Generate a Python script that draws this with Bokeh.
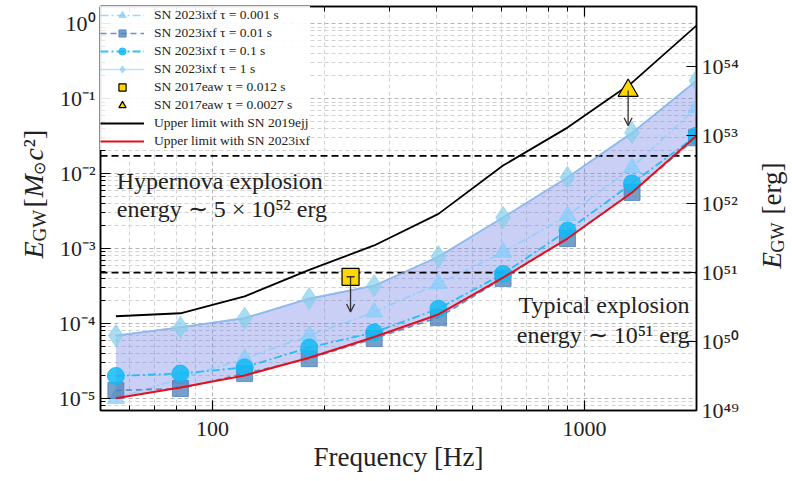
import numpy as np
from bokeh.plotting import figure
from bokeh.layouts import row
from bokeh.models import (Range1d, LogAxis, LogScale, FixedTicker, CustomJSTickFormatter,
                          Label, Arrow, OpenHead, Legend, LegendItem)
from bokeh.embed import file_html
from bokeh.resources import INLINE

# ---------------- data ----------------
freq_hz = [55, 82, 122, 182, 272, 405, 604, 900, 1342, 2000]
egw_tau_0p001 = [1.0e-5, 1.85e-5, 3.4e-5, 6.9e-5, 1.42e-4, 3.4e-4, 8.9e-4, 2.75e-3, 1.2e-2, 7.6e-2]
egw_tau_0p01 = [1.28e-5, 1.36e-5, 2.15e-5, 3.4e-5, 6.3e-5, 1.2e-4, 4.0e-4, 1.36e-3, 5.6e-3, 3.0e-2]
egw_tau_0p1 = [2.0e-5, 2.15e-5, 2.6e-5, 4.8e-5, 7.6e-5, 1.58e-4, 4.6e-4, 1.74e-3, 7.4e-3, 3.2e-2]
egw_tau_1 = [6.9e-5, 8.9e-5, 1.18e-4, 2.15e-4, 3.2e-4, 7.8e-4, 2.6e-3, 8.9e-3, 3.5e-2, 0.174]
limit_sn2023ixf = [1.01e-5, 1.4e-5, 2.03e-5, 3.5e-5, 6.6e-5, 1.32e-4, 4.1e-4, 1.36e-3, 5.6e-3, 3.2e-2]
limit_sn2019ejj = [1.25e-4, 1.37e-4, 2.3e-4, 5.2e-4, 1.1e-3, 2.9e-3, 1.28e-2, 4.1e-2, 0.163, 0.94]

eaw_freq_hz = [235, 1310]
eaw_egw = [4.2e-4, 0.128]

hypernova_erg = 5e52
typical_erg = 1e51

x_lim = (50, 2000)
y_lim = (6.92e-6, 1.69)
erg_lim = (9.9e48, 7.41e54)

x_major = [100, 1000]
x_minor = [60, 70, 80, 90, 200, 300, 400, 500, 600, 700, 800, 900]
y_major = [1e-5, 1e-4, 1e-3, 1e-2, 1e-1, 1e0]
y_minor = [k * 10.0 ** e for e in range(-6, 1) for k in range(2, 10)]
erg_major = [1e49, 1e50, 1e51, 1e52, 1e53, 1e54]

labels_2023 = ["SN 2023ixf τ = 0.001 s", "SN 2023ixf τ = 0.01 s",
               "SN 2023ixf τ = 0.1 s", "SN 2023ixf τ = 1 s"]
labels_eaw = ["SN 2017eaw τ = 0.012 s", "SN 2017eaw τ = 0.0027 s"]
labels_limits = ["Upper limit with SN 2019ejj", "Upper limit with SN 2023ixf"]

FONT = "Liberation Serif"
INK = "#222222"

# ---------------- layout geometry ----------------
H = 480
FRAME_TOP, FRAME_BOTTOM = 6, 410
LEFT_W, RIGHT_W = 50, 46
MAIN_W = 790 - LEFT_W - RIGHT_W

# ---------------- main figure ----------------
p = figure(width=MAIN_W, height=H, x_axis_type="log", y_axis_type="log",
           x_range=Range1d(*x_lim), y_range=Range1d(*y_lim),
           output_backend="svg", toolbar_location=None,
           min_border_left=100 - LEFT_W, min_border_right=LEFT_W + MAIN_W - 696,
           min_border_top=FRAME_TOP, min_border_bottom=H - FRAME_BOTTOM)
p.extra_y_ranges = {"erg": Range1d(*erg_lim)}
p.extra_y_scales = {"erg": LogScale()}
p.outline_line_color = "black"
p.outline_line_width = 1.5
p.background_fill_color = "white"

SUP_CODE = """
const sup = {"0":"\u2070","1":"\u00b9","2":"\u00b2","3":"\u00b3","4":"\u2074","5":"\u2075",
             "6":"\u2076","7":"\u2077","8":"\u2078","9":"\u2079","-":"\u207b"};
const e = Math.round(Math.log10(tick));
return "10" + String(e).split("").map(c => sup[c]).join("");
"""
sup_fmt_left = CustomJSTickFormatter(code=SUP_CODE)
sup_fmt_right = CustomJSTickFormatter(code=SUP_CODE)
int_fmt = CustomJSTickFormatter(code="return tick.toFixed(0);")

xt = FixedTicker(ticks=x_major, minor_ticks=x_minor)
yt = FixedTicker(ticks=y_major, minor_ticks=y_minor)


def style_axis(ax):
    ax.major_tick_in = 10
    ax.major_tick_out = 0
    ax.minor_tick_in = 5
    ax.minor_tick_out = 0
    ax.major_tick_line_width = 1.2
    ax.minor_tick_line_width = 1
    ax.axis_line_width = 1.5
    ax.major_label_text_font = FONT
    ax.major_label_text_font_size = "22px"
    ax.major_label_text_color = INK
    ax.major_label_standoff = 5


xa = p.xaxis[0]
xa.ticker = xt
xa.formatter = int_fmt
style_axis(xa)
xa.major_label_standoff = 11
xa.axis_label = "Frequency [Hz]"
xa.axis_label_text_font = FONT
xa.axis_label_text_font_size = "27px"
xa.axis_label_text_font_style = "normal"
xa.axis_label_text_color = INK
xa.axis_label_standoff = 3

ya = p.yaxis[0]
ya.ticker = yt
ya.formatter = sup_fmt_left
style_axis(ya)

top = LogAxis(ticker=FixedTicker(ticks=x_major, minor_ticks=x_minor))
style_axis(top)
top.major_label_text_font_size = "1px"
top.major_label_text_alpha = 0
top.major_label_standoff = 0
p.add_layout(top, "above")

right = LogAxis(y_range_name="erg", ticker=FixedTicker(ticks=erg_major, minor_ticks=[]),
                formatter=sup_fmt_right)
style_axis(right)
p.add_layout(right, "right")

for g in (p.xgrid, p.ygrid):
    g.grid_line_color = "#b5b5b5"
    g.grid_line_dash = "4 3"
    g.grid_line_width = 1
    g.minor_grid_line_color = "#d2d2d2"
    g.minor_grid_line_dash = "4 3"
    g.minor_grid_line_width = 1

# ---------------- band ----------------
taus = np.array([egw_tau_0p001, egw_tau_0p01, egw_tau_0p1, egw_tau_1])
band_low = taus.min(axis=0)
band_high = taus.max(axis=0)
p.varea(x=freq_hz, y1=band_low, y2=band_high, fill_color="#5b6ee0", fill_alpha=0.33)
p.line(freq_hz, band_high, line_color="#7890e4", line_width=1.6, line_alpha=0.85)

# ---------------- reference energies ----------------
for e in (hypernova_erg, typical_erg):
    p.line(x=list(x_lim), y=[e, e], y_range_name="erg", line_color="black",
           line_width=1.8, line_dash="7 4")

# ---------------- SN 2023ixf series ----------------
l1 = p.line(freq_hz, egw_tau_0p001, line_color="#87CEFA", line_alpha=0.8, line_width=1.6,
            line_dash="8 3 2 3")
s1 = p.scatter(freq_hz, egw_tau_0p001, marker="triangle", size=17, fill_color="#87CEFA",
               fill_alpha=0.75, line_color="#87CEFA", line_alpha=0.75)
l2 = p.line(freq_hz, egw_tau_0p01, line_color="#3f6fa8", line_alpha=0.75, line_width=1.6,
            line_dash="6 4")
s2 = p.scatter(freq_hz, egw_tau_0p01, marker="square", size=16, fill_color="#4a7fb8",
               fill_alpha=0.75, line_color="#4a7fb8", line_alpha=0.75)
l3 = p.line(freq_hz, egw_tau_0p1, line_color="#10b8f4", line_alpha=0.85, line_width=1.8,
            line_dash="8 3 2 3")
s3 = p.scatter(freq_hz, egw_tau_0p1, marker="circle", size=17, fill_color="#12baf5",
               fill_alpha=0.85, line_color="#12baf5", line_alpha=0.85)
l4 = p.line(freq_hz, egw_tau_1, line_color="#8fd0f0", line_alpha=0.6, line_width=1.6)
s4 = p.scatter(freq_hz, egw_tau_1, marker="diamond", size=22, fill_color="#87CEEB",
               fill_alpha=0.7, line_color="#87CEEB", line_alpha=0.7)

# ---------------- upper limits ----------------
lb = p.line(freq_hz, limit_sn2019ejj, line_color="black", line_width=1.8)
lr = p.line(freq_hz, limit_sn2023ixf, line_color="#e3101c", line_width=2.0)

# ---------------- SN 2017eaw ----------------
sq = p.scatter(eaw_freq_hz[:1], eaw_egw[:1], marker="square", size=17, fill_color="#FFD700",
               line_color="black", line_width=1.2)
tr = p.scatter(eaw_freq_hz[1:], eaw_egw[1:], marker="triangle", size=20, fill_color="#FFD700",
               line_color="black", line_width=1.2)
p.scatter(eaw_freq_hz[:1], eaw_egw[:1], marker="dash", size=8, line_color="#333333", line_width=1.5)
arrow_decades = 0.47
for f, v in zip(eaw_freq_hz, eaw_egw):
    p.add_layout(Arrow(x_start=f, y_start=v, x_end=f, y_end=v / 10 ** arrow_decades,
                       line_color="#333333", line_width=1.3,
                       end=OpenHead(size=8, line_color="#333333", line_width=1.3)))

# ---------------- in-plot texts ----------------
txt = dict(text_font=FONT, text_font_size="24px", text_color=INK)
p.add_layout(Label(x=55.3, y=8.07e-3, text="Hypernova explosion", text_align="left",
                   text_baseline="alphabetic", **txt))
p.add_layout(Label(x=55.3, y=3.41e-3, text="energy \u223c 5 \u00d7 10\u2075\u00b2 erg",
                   text_align="left", text_baseline="alphabetic", **txt))
p.add_layout(Label(x=1915, y=1.74e-4, text="Typical explosion", text_align="right",
                   text_baseline="alphabetic", **txt))
p.add_layout(Label(x=1915, y=7.1e-5, text="energy \u223c 10\u2075\u00b9 erg",
                   text_align="right", text_baseline="alphabetic", **txt))

# ---------------- legend ----------------
items = [LegendItem(label=labels_2023[0], renderers=[l1, s1]),
         LegendItem(label=labels_2023[1], renderers=[l2, s2]),
         LegendItem(label=labels_2023[2], renderers=[l3, s3]),
         LegendItem(label=labels_2023[3], renderers=[l4, s4]),
         LegendItem(label=labels_eaw[0], renderers=[sq]),
         LegendItem(label=labels_eaw[1], renderers=[tr]),
         LegendItem(label=labels_limits[0], renderers=[lb]),
         LegendItem(label=labels_limits[1], renderers=[lr])]
legend = Legend(items=items, location="top_left", margin=0, padding=1, spacing=0,
                glyph_width=44, glyph_height=18, label_height=18, label_standoff=10,
                label_text_font=FONT, label_text_font_size="13.5px",
                label_text_color=INK, border_line_color=None,
                background_fill_color="white", background_fill_alpha=0.9)
p.add_layout(legend)


# ---------------- side strips carrying the rotated axis titles ----------------
def strip(width):
    s = figure(width=width, height=H, output_backend="svg", toolbar_location=None,
               x_axis_location=None, y_axis_location=None, min_border=0,
               min_border_top=FRAME_TOP, min_border_bottom=H - FRAME_BOTTOM,
               x_range=Range1d(0, 1), y_range=Range1d(0, 1))
    s.outline_line_color = None
    s.xgrid.visible = False
    s.ygrid.visible = False
    return s


left_strip = strip(LEFT_W)
right_strip = strip(RIGHT_W)


def piece(fig, x0, px, py, text, size, style="normal"):
    # screen units: x from the strip's left edge, y up from the (row-aligned) frame bottom
    fig.add_layout(Label(x=px - x0, y=FRAME_BOTTOM - py, x_units="screen", y_units="screen",
                         text=text, angle=np.pi / 2, text_align="left",
                         text_baseline="alphabetic", text_font=FONT,
                         text_font_size=f"{size}px", text_font_style=style, text_color=INK))


# left: E_GW [M_sun c^2]
piece(left_strip, 0, 33, 258, "E", 28, "italic")
piece(left_strip, 0, 39, 241, "GW", 19)
piece(left_strip, 0, 33, 207, "[", 28)
piece(left_strip, 0, 33, 197, "M", 28, "italic")
piece(left_strip, 0, 39, 174, "\u2299", 16)
piece(left_strip, 0, 33, 160, "c", 28, "italic")
piece(left_strip, 0, 33, 147, "\u00b2]", 28)

# right: E_GW [erg]
RX0 = LEFT_W + MAIN_W
piece(right_strip, RX0, 771, 268, "E", 27, "italic")
piece(right_strip, RX0, 777, 252, "GW", 18)
piece(right_strip, RX0, 771, 214, "[erg]", 27)

layout = row(left_strip, p, right_strip, spacing=0)
open("out.html", "w").write(file_html(layout, INLINE))
